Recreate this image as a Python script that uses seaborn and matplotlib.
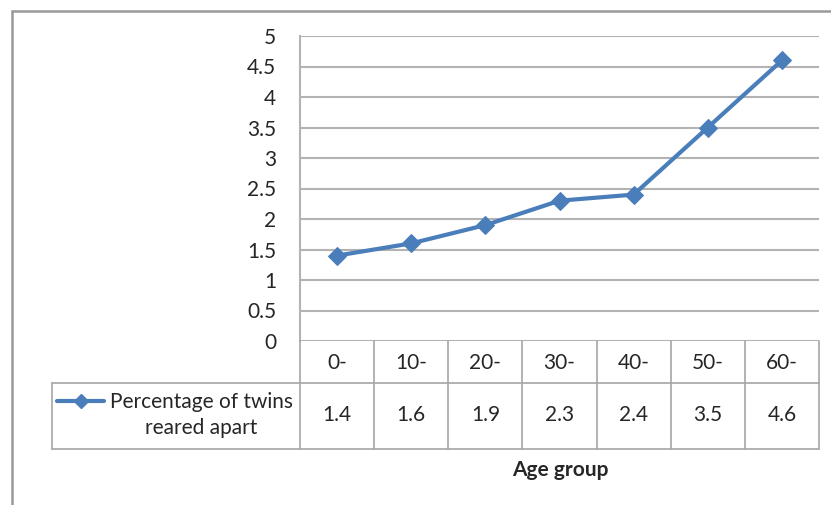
import numpy as np
import pandas as pd
import matplotlib
matplotlib.use('Agg')
import matplotlib.pyplot as plt
from matplotlib.lines import Line2D
import seaborn as sns

# Data
age_groups = ['0-', '10-', '20-', '30-', '40-', '50-', '60-']
pct_twins = [1.4, 1.6, 1.9, 2.3, 2.4, 3.5, 4.6]
series_name = 'Percentage of twins\nreared apart'
y_ticks = [0, 0.5, 1, 1.5, 2, 2.5, 3, 3.5, 4, 4.5, 5]
y_labels = ['0', '0.5', '1', '1.5', '2', '2.5', '3', '3.5', '4', '4.5', '5']

df = pd.DataFrame({'age': age_groups, 'pct': pct_twins})
df['pos'] = np.arange(len(df))

sns.set_style('white')
plt.rcParams['font.family'] = ['Lato', 'DejaVu Sans']

W, H = 831, 505
fig = plt.figure(figsize=(W / 100, H / 100), dpi=100)
line_col = '#4a7ebb'
grid_col = '#b3b3b3'
txt_col = '#262626'
fs = 15

def px(x0, y0, x1, y1):
    # pixel box -> figure fraction rect
    return [x0 / W, 1 - y1 / H, (x1 - x0) / W, (y1 - y0) / H]

# outer chart frame
fig.add_artist(Line2D([12 / W, 12 / W], [0, 1 - 11 / H], color='#999999', lw=1.8))
fig.add_artist(Line2D([12 / W, 1], [1 - 11 / H, 1 - 11 / H], color='#999999', lw=1.8))

# main plot
x_left, x_right, y_top, y_bot = 300, 819, 36, 341
ax = fig.add_axes(px(x_left, y_top, x_right, y_bot))
n = len(age_groups)
ax.set_xlim(-0.5, n - 0.5)
ax.set_ylim(0, 5)
ax.set_yticks(y_ticks)
ax.set_yticklabels(y_labels, fontsize=fs, color=txt_col)
ax.tick_params(axis='y', length=0, pad=17)
ax.set_xticks([])
for s in ['top', 'right', 'bottom']:
    ax.spines[s].set_visible(False)
ax.spines['left'].set_color(grid_col)
ax.spines['left'].set_linewidth(1.5)
ax.grid(axis='y', color=grid_col, lw=1.5)
ax.set_axisbelow(True)

sns.lineplot(data=df, x='pos', y='pct', ax=ax, color=line_col, lw=3,
             marker='D', markersize=9, markeredgecolor=line_col, clip_on=False)
ax.set_xlabel('')
ax.set_ylabel('')

# data table below the plot
col_w = (x_right - x_left) / n
tab_left = 52
t = fig.add_axes(px(tab_left, 341, x_right, 449))
left_edge = -0.5 - (x_left - tab_left) / col_w
t.set_xlim(left_edge, n - 0.5)
t.set_ylim(449, 341)
t.axis('off')
tc = '#a6a6a6'
edges = np.arange(n + 1) - 0.5
for e in edges:
    t.plot([e, e], [341, 449], color=tc, lw=1.2, clip_on=False)
t.plot([left_edge, edges[-1]], [383, 383], color=tc, lw=1.2, clip_on=False)
t.plot([left_edge, edges[-1]], [449, 449], color=tc, lw=1.2, clip_on=False)
t.plot([left_edge, left_edge], [383, 449], color=tc, lw=1.2, clip_on=False)

for i, (lab, v) in enumerate(zip(age_groups, pct_twins)):
    t.text(i, 363, lab, ha='center', va='center', fontsize=fs, color=txt_col)
    t.text(i, 415, f'{v:g}', ha='center', va='center', fontsize=fs, color=txt_col)

# legend key in the table
def cx(p):
    return left_edge + (p - tab_left) / col_w

t.plot([cx(57), cx(104)], [401, 401], color=line_col, lw=3, clip_on=False)
t.plot([cx(81)], [401], marker='D', color=line_col, markersize=7, clip_on=False)
t.text(cx(293), 415, series_name, ha='right', va='center', fontsize=fs,
       color=txt_col, multialignment='center', linespacing=1.4)

fig.text(560 / W, 1 - 470 / H, 'Age group', ha='center', va='center',
         fontsize=fs, fontweight='bold', color=txt_col)

fig.savefig('out.png', dpi=100, facecolor='white')
